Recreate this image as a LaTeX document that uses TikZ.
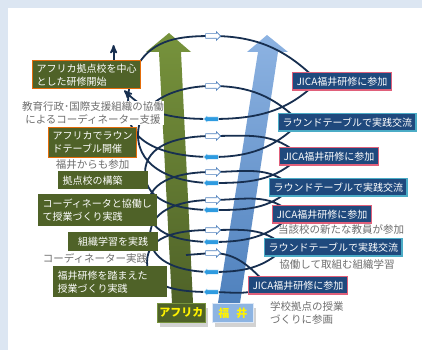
\documentclass[tikz,border=0pt]{standalone}
\usepackage{fontspec}
\setmainfont{Noto Sans CJK JP}
\usepackage{tikz}
\usetikzlibrary{arrows,backgrounds,positioning,shapes.arrows,shadows}
\definecolor{paneblue}{HTML}{DCE6F2}
\definecolor{boxgreen}{HTML}{4F6228}
\definecolor{boxorange}{HTML}{E46C0A}
\definecolor{boxnavy}{HTML}{1F497D}
\definecolor{jicared}{HTML}{E0607A}
\definecolor{roundcyan}{HTML}{4BACC6}
\definecolor{spiral}{HTML}{172F50}
\definecolor{notegray}{HTML}{6E6E6E}
\definecolor{shaftgreen}{HTML}{4F6228}
\definecolor{shaftgreenlight}{HTML}{77933C}
\definecolor{shaftblue}{HTML}{4F81BD}
\definecolor{shaftbluelight}{HTML}{8DB3E2}
\definecolor{tagblue}{HTML}{8DB4E2}
\definecolor{markcyan}{HTML}{2E9BE0}
\tikzstyle{box}=[rectangle,draw,line width=1.2pt,inner sep=4pt,text=white,align=left,font=\fontsize{10}{13}\selectfont]
\tikzstyle{africa}=[box,fill=boxgreen,draw=boxorange]
\tikzstyle{school}=[box,fill=boxgreen,draw=boxgreen]
\tikzstyle{jica}=[box,fill=boxnavy,draw=jicared]
\tikzstyle{roundtable}=[box,fill=boxnavy,draw=roundcyan]
\tikzstyle{note}=[text=notegray,align=center,inner sep=1pt,font=\fontsize{10.5}{13}\selectfont]
\tikzstyle{tag}=[rectangle,draw,line width=0.8pt,inner sep=2pt,text=yellow,font=\fontsize{11}{13}\selectfont\bfseries,drop shadow={shadow xshift=3pt,shadow yshift=-5pt,opacity=0.35}]
\tikzstyle{helix}=[draw=spiral,line width=1.8pt]
\tikzstyle{fwd mark}=[single arrow,draw=shaftblue,fill=white,line width=0.6pt,minimum height=15pt,inner xsep=0pt,inner ysep=2pt,single arrow head extend=2pt]
\tikzstyle{bwd mark}=[fwd mark,draw=white,fill=markcyan,shape border rotate=180]

\begin{document}
\begin{tikzpicture}[x=1pt,y=-1pt]
\useasboundingbox (0,0) rectangle (422,350) ;

\node (hub) [africa,inner ysep=3pt,anchor=north west] at (32,60) {アフリカ拠点校を中心\\とした研修開始} ;
\node (admin) [note,fill=white,inner sep=0.5pt] at (93,113) {教育行政･国際支援組織の協働\\によるコーディネーター支援} ;
\node (rtafrica) [africa,anchor=north west] at (48,127) {アフリカでラウン\\ドテーブル開催} ;
\node (fukui) [note,below=0pt of rtafrica] {福井からも参加} ;
\node (base) [school,anchor=north west,text width=81pt] at (58,171) {拠点校の構築} ;
\node (coord) [school,anchor=north west] at (38,194) {コーディネータと協働し\\て授業づくり実践} ;
\node (orglearn) [school,anchor=north west,minimum width=89pt] at (68,232) {組織学習を実践} ;
\node (coordpractice) [note] at (95,258) {コーディネーター実践} ;
\node (lesson) [school,anchor=north west,text width=105pt] at (53,266) {福井研修を踏まえた\\授業づくり実践} ;

\node (j1) [jica,anchor=north west] at (292,72) {JICA福井研修に参加} ;
\node (rt1) [roundtable,anchor=north west] at (278,113) {ラウンドテーブルで実践交流} ;
\node (j2) [jica,anchor=north west] at (279,147) {JICA福井研修に参加} ;
\node (rt2) [roundtable,anchor=north west] at (269,178) {ラウンドテーブルで実践交流} ;
\node (j3) [jica,anchor=north west] at (272,205) {JICA福井研修に参加} ;
\node (newteacher) [note] at (341,230) {当該校の新たな教員が参加} ;
\node (rt3) [roundtable,anchor=north west] at (264,238) {ラウンドテーブルで実践交流} ;
\node (joint) [note] at (337,265) {協働して取組む組織学習} ;
\node (j4) [jica,anchor=north west] at (248,276) {JICA福井研修に参加} ;
\node (engage) [note,align=left,anchor=west] at (269,313) {学校拠点の授業\\づくりに参画} ;

\node (af) [tag,fill=boxgreen,draw=shaftgreenlight,anchor=north west,minimum width=46pt,minimum height=19pt] at (157,303) {アフリカ} ;
\node (fk) [tag,fill=tagblue,draw=white!70!tagblue,anchor=north west,minimum width=41pt,minimum height=19pt] at (212,303) {福\hspace{7pt}井} ;

\begin{scope}[on background layer]
\fill [paneblue] (0,0) rectangle (422,350) ;
\fill [white] (8,8) rectangle (422,350) ;

% the two shafts
\shade [top color=shaftgreenlight,bottom color=shaftgreen] (172,303) -- (193,303) -- (181,52) -- (191,52) -- (169,33) -- (146,52) -- (159,52) -- cycle ;
\shade [top color=shaftbluelight,bottom color=shaftblue] (218,303) -- (240,303) -- (278,52) -- (288,52) -- (267,35) -- (247,52) -- (258,52) -- cycle ;

% turning points of the spiral
\coordinate (s) at (186,255) ;
\coordinate (b7) at (212,253) ; \coordinate (f7) at (212,292) ; \coordinate (l6) at (147,262) ;
\coordinate (b6) at (212,230) ; \coordinate (f6) at (212,272) ; \coordinate (l5) at (150,236) ;
\coordinate (b5) at (212,200) ; \coordinate (f5) at (212,242) ; \coordinate (l4) at (148,207) ;
\coordinate (b4) at (212,172) ; \coordinate (f4) at (212,210) ; \coordinate (l3) at (145,173) ;
\coordinate (b3) at (212,136) ; \coordinate (f3) at (212,183) ; \coordinate (l2) at (138,135) ;
\coordinate (b2) at (212,86) ; \coordinate (f2) at (212,157) ; \coordinate (l1) at (128,110) ;
\coordinate (b1) at (212,36) ; \coordinate (f1) at (212,119) ;
\coordinate (r1) at ([xshift=26pt]j1.west) ;
\coordinate (r2) at ([xshift=22pt]rt1.west) ;
\coordinate (r3) at ([xshift=21pt]j2.west) ;
\coordinate (r4) at ([xshift=23pt]rt2.west) ;
\coordinate (r5) at ([xshift=20pt]j3.west) ;
\coordinate (r6) at ([xshift=21pt]rt3.west) ;
\coordinate (r7) at ([xshift=20pt]j4.west) ;
\coordinate (a1) at ([xshift=-4pt,yshift=-6pt]hub.north east) ;
\coordinate (e) at ([xshift=-17pt,yshift=-1pt]hub.south east) ;
\coordinate (top) at ([xshift=27pt,yshift=15pt]hub.north) ;

\draw [helix,-stealth'] (s) -- (b7)
  to[out=0,in=135] (r7) to[out=-150,in=0] (f7)
  to[out=180,in=-90] (l6) to[out=90,in=180] (b6)
  to[out=0,in=135] (r6) to[out=-135,in=0] (f6)
  to[out=180,in=-90] (l5) to[out=90,in=180] (b5)
  to[out=0,in=135] (r5) to[out=-135,in=0] (f5)
  to[out=180,in=-90] (l4) to[out=90,in=180] (b4)
  to[out=0,in=135] (r4) to[out=-135,in=0] (f4)
  to[out=180,in=-90] (l3) to[out=90,in=180] (b3)
  to[out=0,in=135] (r3) to[out=-135,in=0] (f3)
  to[out=180,in=-90] (l2) to[out=90,in=180] (b2)
  to[out=0,in=135] (r2) to[out=-135,in=0] (f2)
  to[out=180,in=-90] (l1) to[out=90,in=-120] (a1) to[out=60,in=180] (b1)
  to[out=0,in=135] (r1) to[out=-135,in=0] (f1)
  to[out=180,in=-45] (e) ;
\draw [helix,-stealth'] (hub.north -| top) -- (top) ;

\node (wb1) [fwd mark] at (b1) {} ;
\node (wb2) [fwd mark] at (b2) {} ;
\node (wb3) [fwd mark] at (b3) {} ;
\node (wb4) [fwd mark] at (b4) {} ;
\node (wb5) [fwd mark] at (b5) {} ;
\node (wb6) [fwd mark] at (b6) {} ;
\node (wb7) [fwd mark] at (b7) {} ;
\node (bf1) [bwd mark] at (f1) {} ;
\node (bf2) [bwd mark] at (f2) {} ;
\node (bf3) [bwd mark] at (f3) {} ;
\node (bf4) [bwd mark] at (f4) {} ;
\node (bf5) [bwd mark] at (f5) {} ;
\node (bf6) [bwd mark] at (f6) {} ;
\node (bf7) [bwd mark] at (f7) {} ;
\end{scope}

\end{tikzpicture}
\end{document}
